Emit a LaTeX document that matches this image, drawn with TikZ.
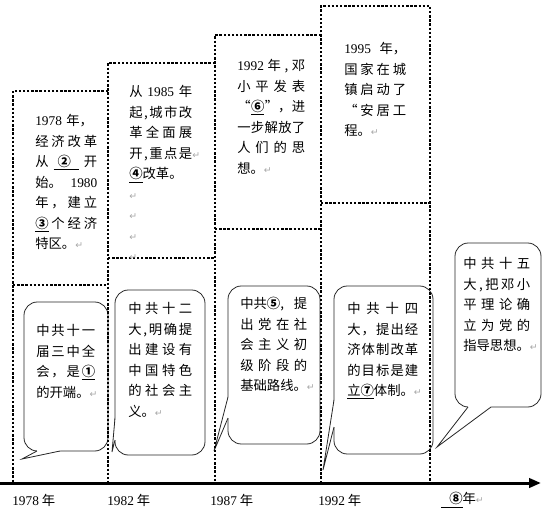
\documentclass[tikz,border=0pt]{standalone}
\usepackage{fontspec}
\setmainfont{Noto Sans CJK SC}
\newfontfamily\tnr{Liberation Serif}
\newfontfamily\dv{DejaVu Sans}
\usetikzlibrary{arrows.meta}
\ExplSyntaxOn
\NewDocumentCommand\jl{m}{\leavevmode\hbox~to~\hsize{\tl_map_inline:nn{#1}{{##1}\hfil}\unskip}}
\ExplSyntaxOff
\newcommand\cn[1]{\textbf{#1}}
\newcommand\retmk{{\dv\fontsize{7}{7}\selectfont\color{black!35}↵}}
\tikzset{dotf/.style={line width=1.8pt,dash pattern=on 1.8pt off 1.3pt},
 bub/.style={draw=black!85,line width=.6pt,rounded corners=10pt},
 tail/.style={draw=black!85,line width=.6pt},
 note/.style={anchor=north west,inner sep=0pt,align=left,font=\fontsize{10}{15.4}\selectfont},
 yr/.style={anchor=west,inner sep=0pt,font=\fontsize{10}{12}\selectfont},
 tline/.style={line width=2.25pt,-{Triangle[length=9pt,width=7pt]}}}
\begin{document}
\begin{tikzpicture}[x=.75pt,y=-.75pt]
\useasboundingbox (0,0) rectangle (552,510);
% speech bubbles
\draw[bub] (24,302) rectangle (108,451);
\fill[white] (37,448)--(37,451)--(22,459)--(60,451)--(60,448)--cycle;
\draw[tail] (37,451)--(22,459)--(60,451);
\draw[bub] (115,290) rectangle (205,455);
\fill[white] (117,418)--(115,418)--(112,452)--(115,440)--(117,440)--cycle;
\draw[tail] (115,418)--(112,452)--(115,440);
\draw[bub] (228,286) rectangle (320,444);
\fill[white] (231,397)--(228,397)--(214,451)--(228,418)--(231,418)--cycle;
\draw[tail] (228,397)--(214,451)--(228,418);
\draw[bub] (334,286) rectangle (433,454);
\fill[white] (337,400)--(334,400)--(323,470)--(334,427)--(337,427)--cycle;
\draw[tail] (334,400)--(323,470)--(334,427);
\draw[bub] (455,243) rectangle (541,407);
\fill[white] (468,404)--(468,407)--(437,447)--(491,407)--(491,404)--cycle;
\draw[tail] (468,407)--(437,447)--(491,407);
% dotted frames
\draw[dotf] (108,91)--(13,91)--(13,483) (13,285)--(108,285);
\draw[dotf] (215,63)--(108,63)--(108,483) (108,258)--(215,258);
\draw[dotf] (321,35)--(215,35)--(215,483) (215,229)--(321,229);
\draw[dotf] (321,483)--(321,6)--(430,6)--(430,483) (321,203)--(430,203);
% time line
\coordinate (o) at (0,483); \coordinate (e) at (541,483);
\draw[tline] (o)--(e);
% upper notes
\node[note,text width=46.5pt] (t1) at (35,114) {{\tnr 1978} 年，\\ \jl{经济改革}\\
 \jl{从{\underline{\hspace{3pt}\cn{②}\hspace{6pt}}}开}\\ \jl{{始。}{\tnr 1980}}\\
 \jl{年，建立}\\ \jl{{\underline{\cn{③}}}个经济}\\ 特区。\retmk};
\node[note,text width=47.25pt] (t2) at (129,85) {\jl{从{\tnr 1985}年}\\ \jl{起,城市改}\\
 \jl{革全面展}\\ \jl{开,重点是}\rlap{\retmk}\\ {\underline{\cn{④}}}改革。\ \retmk\\
 \retmk\\ \retmk\\ \retmk};
\node[note,text width=51pt] (t3) at (237,59) {\jl{{\tnr 1992}年,邓}\\ \jl{小平发表}\\
 \jl{“{\underline{\cn{⑥}}}{”，}进}\\ \jl{一步解放了}\\ \jl{人们的思}\\ 想。\retmk};
\node[note,text width=46.5pt] (t4) at (344,42) {\jl{{\tnr 1995}{年，}}\\ \jl{国家在城}\\
 \jl{镇启动了}\\ \jl{“安居工}\\ 程。\retmk};
% bubble texts
\node[note,text width=44.25pt] (b1) at (36,324) {\jl{中共十一}\\ \jl{届三中全}\\
 \jl{会，是{\underline{\cn{①}}}}\\ 的开端。\retmk};
\node[note,text width=48pt] (b2) at (128,302) {\jl{中共十二}\\ \jl{大,明确提}\\
 \jl{出建设有}\\ \jl{中国特色}\\ \jl{的社会主}\\ 义。\retmk};
\node[note,text width=50.25pt] (b3) at (240,297) {\jl{{中共\cn{⑤},}提}\\ \jl{出党在社}\\
 \jl{会主义初}\\ \jl{级阶段的}\\ 基础路线。\retmk};
\node[note,text width=53.25pt] (b4) at (347,302) {\jl{中共十四}\\ \jl{大，提出经}\\
 \jl{济体制改革}\\ \jl{的目标是建}\\ {\underline{立\cn{⑦}}}体制。\retmk};
\node[note,text width=50.25pt] (b5) at (463,257) {\jl{中共十五}\\ \jl{大,把邓小}\\
 \jl{平理论确}\\ \jl{立为党的}\\ 指导思想。\retmk};
% years
\node[yr] (y1) at (12,500) {{\tnr 1978} 年};
\node[yr] (y2) at (107,500) {{\tnr 1982} 年};
\node[yr] (y3) at (210,500) {{\tnr 1987} 年};
\node[yr] (y4) at (318,500) {{\tnr 1992} 年};
\node[yr] (y5) at (441,500) {\underline{\hspace{6pt}\cn{⑧}}年\retmk};
\end{tikzpicture}
\end{document}
